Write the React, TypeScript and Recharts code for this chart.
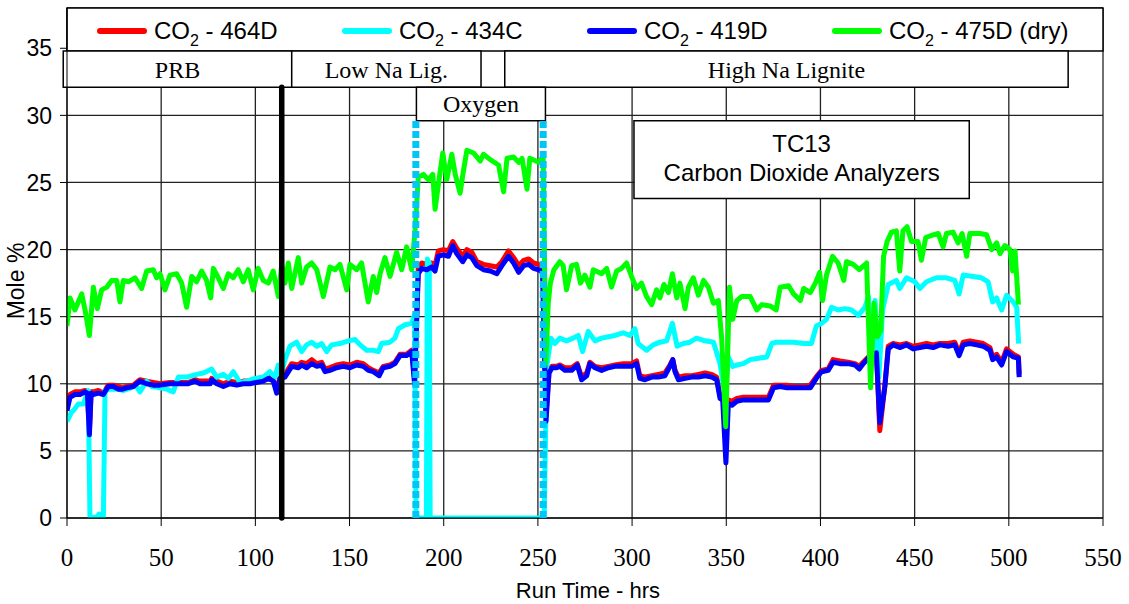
import React from 'react';
import {
  LineChart,
  Line,
  XAxis,
  YAxis,
  CartesianGrid,
  Legend,
  ReferenceArea,
  ReferenceLine,
} from 'recharts';

const SANS = '"Liberation Sans", Arial, sans-serif';
const SERIF = '"Liberation Serif", "Times New Roman", serif';

// x-axis / y-axis ticks
const xTicks = [0, 50, 100, 150, 200, 250, 300, 350, 400, 450, 500, 550];
const yTicks = [0, 5, 10, 15, 20, 25, 30, 35];

// run time (hrs) shared by 464D and 419D
const tRB = [
  0, 1.6, 4.2, 6.9, 9.6, 10.8, 11.9, 12.8, 13.9, 16.6, 19.3, 21.9, 24.6, 27.2, 29.5, 31.7, 35.2, 38.7, 42.3, 45.8,
  49.4, 54.7, 60, 64.4, 67.9, 70.6, 76, 76.8, 79.5, 83, 86.5, 90.1, 93.6, 97.1, 100.6, 104.2, 106.9, 109.5, 111.3, 113.1,
  115.7, 119.3, 122.8, 124.6, 127.2, 129.9, 132.6, 135.2, 137, 139.6, 143.1, 146.7, 150.2, 153.8, 157.3, 160, 162.6, 165.7, 167.9, 171.5,
  174.1, 176.8, 180.3, 183, 184.5, 186.5, 188.3, 191, 193.6, 195.4, 197.1, 199.8, 202.5, 204.8, 206.9, 210.1, 212.3, 214.9, 217.6, 221.1,
  224.7, 228.2, 230.9, 234.4, 237.1, 239.8, 242.4, 245.1, 247.7, 250.4, 252.5, 254.3, 255.9, 257.5, 259.9, 261.6, 264.3, 267.9, 270.9, 273.2,
  275.9, 277.6, 280.3, 283.8, 287.4, 290.9, 295.3, 299.7, 302.4, 304.1, 306.8, 310.4, 313.9, 317.4, 320.1, 321.6, 322.8, 324.6, 328.1, 331.6,
  335.2, 338.7, 342.3, 344.9, 346.7, 348.1, 349.8, 351.1, 353, 355.6, 359.1, 362.7, 368, 372.4, 375.1, 378.6, 382.2, 385.7, 391.1, 394.6,
  398.2, 400.6, 404.1, 406.7, 410.3, 414.7, 418.3, 420.6, 422.7, 425.4, 427.5, 429.7, 431.5, 434.2, 436, 438.6, 442.1, 445.7, 449.2, 452.8,
  456.3, 459.8, 463.4, 467.8, 471.3, 473.6, 475.8, 479.3, 482.9, 486.4, 490, 491.4, 493.5, 496.2, 498.8, 502.4, 505.1, 505.5,
];

// CO2 - 464D (red)
const v464D = [
  8.4, 9.2, 9.4, 9.4, 9.5, 9.4, 6.5, 9.4, 9.4, 9.5, 9.3, 9.9, 9.9, 9.8, 9.7, 9.8, 9.9, 10.3, 10.2, 10.1,
  10.0, 10.1, 10.1, 10.1, 10.3, 10.2, 10.2, 10.4, 10.2, 10.0, 10.2, 10.1, 10.2, 10.2, 10.3, 10.3, 10.5, 10.3, 9.5, 10.5,
  10.7, 11.5, 11.4, 11.6, 11.5, 11.8, 11.5, 11.6, 11.1, 11.2, 11.4, 11.5, 11.4, 11.6, 11.5, 11.2, 11.0, 10.8, 11.3, 11.4,
  11.6, 12.2, 12.2, 12.5, 10.5, 18.7, 19.0, 18.9, 19.0, 18.8, 19.9, 20.0, 19.9, 20.6, 20.1, 19.5, 20.0, 19.8, 19.1, 18.9,
  18.8, 18.7, 19.1, 19.9, 19.4, 18.8, 19.2, 19.3, 19.0, 18.9, 18.7, 7.6, 11.0, 11.3, 11.3, 11.4, 11.2, 11.2, 11.5, 10.5,
  10.8, 11.6, 11.3, 11.2, 11.3, 11.4, 11.5, 11.5, 11.7, 10.6, 10.5, 10.6, 10.7, 10.8, 11.4, 11.8, 11.0, 10.5, 10.6, 10.6,
  10.7, 10.8, 10.7, 10.5, 9.1, 9.0, 7.4, 8.8, 8.7, 8.9, 9.0, 9.0, 9.0, 9.0, 9.9, 9.9, 9.9, 9.8, 9.8, 9.9,
  10.6, 11.0, 11.1, 11.8, 11.7, 11.6, 11.5, 11.3, 11.6, 12.0, 12.2, 12.4, 6.5, 9.9, 12.8, 13.0, 12.9, 13.0, 12.8, 12.9,
  13.0, 12.9, 13.0, 13.0, 13.1, 12.3, 13.1, 13.2, 13.1, 13.0, 12.7, 12.0, 12.2, 11.6, 12.6, 12.2, 12.0, 10.7,
];

// CO2 - 419D (blue)
const v419D = [
  8.0, 9.0, 9.2, 9.2, 9.4, 9.3, 6.2, 9.3, 9.2, 9.3, 9.2, 9.8, 9.8, 9.6, 9.6, 9.7, 9.8, 10.2, 10.0, 9.9,
  9.9, 10.0, 10.0, 10.0, 10.2, 10.0, 10.0, 10.3, 10.0, 9.8, 10.0, 9.9, 10.0, 10.0, 10.1, 10.2, 10.4, 10.2, 9.3, 10.4,
  10.5, 11.3, 11.2, 11.4, 11.2, 11.5, 11.3, 11.4, 10.9, 11.0, 11.2, 11.3, 11.2, 11.4, 11.3, 11.0, 10.9, 10.6, 11.2, 11.3,
  11.5, 12.1, 12.1, 12.4, 10.0, 18.2, 18.6, 18.5, 18.7, 18.4, 19.5, 19.6, 19.5, 20.3, 19.7, 19.1, 19.6, 19.4, 18.8, 18.5,
  18.4, 18.2, 18.8, 19.5, 19.0, 18.3, 18.8, 18.9, 18.6, 18.5, 18.3, 7.2, 10.8, 11.2, 11.2, 11.3, 11.0, 11.0, 11.4, 10.3,
  10.6, 11.5, 11.2, 11.0, 11.2, 11.3, 11.3, 11.3, 11.5, 10.4, 10.3, 10.5, 10.5, 10.6, 11.3, 11.8, 10.9, 10.3, 10.4, 10.5,
  10.5, 10.6, 10.5, 10.3, 8.9, 8.8, 4.1, 8.5, 8.4, 8.7, 8.8, 8.8, 8.8, 8.8, 9.7, 9.8, 9.7, 9.7, 9.7, 9.7,
  10.5, 10.9, 11.0, 11.6, 11.5, 11.5, 11.4, 11.1, 11.5, 11.9, 12.1, 12.3, 7.1, 9.8, 12.6, 12.9, 12.7, 12.9, 12.6, 12.7,
  12.8, 12.7, 12.9, 12.8, 12.9, 12.1, 12.9, 13.0, 12.9, 12.8, 12.5, 11.8, 12.0, 11.4, 12.4, 12.0, 11.9, 10.5,
];

// CO2 - 434C (cyan)
const t434C = [
  0, 2.5, 3.4, 6, 8.7, 11.3, 12.2, 13, 16, 17, 18.5, 19.3, 20.2, 22.8, 26.4, 30, 34, 36.5, 38.7, 42.3,
  45, 49.4, 53, 56.4, 59.1, 63.5, 68.8, 72.4, 76.8, 79.5, 83, 85.6, 88.3, 91.8, 95.4, 99.8, 104.2, 107.7, 110.4, 112.2,
  113.5, 115.7, 118.4, 121.9, 124.6, 127.2, 129.9, 132.6, 135.2, 137.9, 140.5, 144.9, 149.4, 152.9, 155.6, 159.1, 162.6, 165.3, 167, 171.5,
  174.1, 175.9, 179.5, 183, 184.6, 185.3, 190.8, 191.3, 192.3, 192.8, 253.3, 254.7, 256.9, 259, 261.6, 265.2, 268.7, 271.4, 273.7, 276.7,
  280.3, 283.8, 287.4, 290.9, 295.3, 298.8, 301.5, 303.2, 305, 307.7, 311.2, 314.8, 318.3, 321.4, 323.9, 327.2, 330.7, 334.2, 338.7, 343.2,
  346.7, 349.4, 351.1, 353.4, 355.6, 359.1, 362.7, 367.1, 371.5, 374.2, 376.9, 382.2, 385.7, 391.1, 395.2, 397.8, 400.6, 403.2, 405.9, 409.4,
  413, 416.5, 420.1, 423.6, 425.5, 427.3, 429, 431, 433, 436, 440.3, 442.1, 445.7, 450.1, 452.8, 456.3, 461.6, 466.9, 471.3, 473.6,
  475.8, 481.1, 485.5, 489, 491.4, 493.5, 496.2, 498.8, 502.4, 504.2, 505.2,
];
const v434C = [
  7.2, 7.9, 8.0, 8.5, 8.5, 9.5, 0, 0, 0.1, 0.3, 0.2, 0, 9.5, 9.6, 9.6, 9.5, 9.7, 9.9, 9.4, 10.2,
  9.8, 9.7, 9.6, 9.4, 10.5, 10.5, 10.7, 10.8, 11.1, 10.5, 10.7, 10.4, 10.9, 10.1, 10.2, 10.4, 10.5, 10.9, 10.5, 11.4,
  10.6, 11.8, 12.8, 13.1, 12.4, 12.9, 13.1, 12.8, 13.0, 12.4, 12.9, 13.0, 13.2, 13.3, 12.9, 12.5, 12.5, 12.4, 13.0, 13.1,
  13.4, 14.1, 14.4, 14.5, 15.2, 0, 0, 19.3, 19.0, 0, 0, 11.3, 13.4, 13.0, 13.4, 13.2, 13.4, 13.6, 12.4, 13.9,
  13.2, 13.4, 13.5, 13.6, 13.8, 13.6, 14.1, 13.0, 12.8, 12.5, 12.9, 13.1, 13.2, 14.5, 12.8, 13.0, 13.1, 13.4, 13.2, 13.1,
  11.5, 9.0, 12.0, 11.3, 11.4, 11.5, 11.8, 11.9, 12.0, 13.0, 13.1, 13.1, 13.1, 13.0, 13.0, 14.3, 14.5, 14.8, 15.7, 15.5,
  15.6, 15.5, 15.1, 15.7, 16.5, 12.0, 16.2, 10.5, 15.5, 17.4, 17.7, 17.1, 17.9, 17.6, 17.1, 17.6, 17.9, 17.9, 17.7, 16.7,
  18.1, 18.0, 17.9, 17.6, 16.1, 16.4, 15.5, 16.6, 16.1, 15.7, 13.0,
];

// CO2 - 475D (dry) (green)
const t475D = [
  0, 1.6, 4.2, 6, 7.8, 9.6, 11.9, 14, 16.1, 18.4, 21.1, 23.7, 26.4, 28.1, 29.9, 32.6, 36.1, 39.6, 42.3, 45.8,
  47.6, 49.4, 52, 54.7, 58.2, 60.9, 63.5, 66.2, 68.8, 71.5, 74.1, 76.3, 77.7, 80.3, 83, 85.6, 88.3, 90.9, 93.6, 96.2,
  98.9, 101.5, 104.2, 106.9, 109.5, 112.2, 114, 115.7, 117.5, 119.3, 122.8, 124.6, 127.2, 129.9, 132.6, 136.1, 139.6, 142.3, 144.9, 148.5,
  150.2, 153.8, 156.4, 159.9, 162.6, 164.4, 166.2, 168.8, 171.5, 175, 177.7, 180.3, 183, 184.8, 186.5, 189.2, 191.9, 194.2, 195.4, 197.7,
  199.5, 201.6, 204.3, 206.1, 208.7, 210.5, 212.3, 215.8, 219.3, 221.1, 224.7, 229.1, 231.8, 233.6, 237.1, 239.8, 241.6, 244.2, 245.7, 250.4,
  252.8, 254.2, 255.5, 256.6, 258.5, 261.6, 263.4, 265.2, 267.9, 270.5, 272.6, 274.9, 277.6, 279.4, 283.8, 286.5, 289.1, 291.8, 294.4, 297.1,
  299.7, 302.4, 305, 307.7, 310.4, 313, 314.8, 316.9, 319.3, 321.4, 323.7, 325.4, 328.1, 329.9, 332.5, 335.2, 337.9, 340.5, 343.2, 345.8,
  347.6, 349.7, 351.7, 353.4, 355.6, 358.2, 362.7, 366.2, 368.9, 373.3, 376.5, 378.6, 383.1, 385.7, 389.3, 391.1, 394.6, 397.3, 399.6, 401.1,
  403.2, 406.4, 409.4, 412.4, 413.8, 417.4, 420.6, 424.5, 426.6, 428.4, 430.2, 432, 433.5, 435.4, 437.7, 440.3, 442.1, 443.8, 446, 448.3,
  451.8, 453.6, 455.9, 459.8, 462.5, 465.1, 466.9, 470.4, 473.1, 475.2, 477.6, 479.3, 484.6, 488.2, 490.9, 493.5, 495.3, 497.9, 500.6, 502.1,
  503.3, 505.1,
];
const v475D = [
  14.3, 16.4, 15.5, 16.1, 16.7, 15.5, 13.6, 17.2, 15.6, 17.0, 17.2, 17.7, 17.7, 16.1, 17.7, 17.6, 17.9, 17.1, 18.4, 18.5,
  17.9, 18.2, 17.0, 18.1, 18.2, 17.5, 15.7, 18.0, 17.6, 18.4, 17.7, 16.4, 18.6, 17.9, 17.1, 18.2, 17.9, 18.5, 17.6, 18.5,
  17.0, 18.6, 17.7, 17.5, 18.4, 16.5, 18.9, 17.5, 19.0, 17.1, 19.4, 17.5, 18.7, 19.0, 18.5, 16.5, 18.7, 18.5, 18.9, 17.0,
  18.9, 18.5, 19.0, 16.1, 18.0, 16.8, 18.2, 19.4, 18.0, 19.8, 18.5, 20.2, 18.5, 21.5, 25.4, 25.6, 25.2, 25.6, 23.0, 25.4,
  27.2, 25.2, 27.1, 25.6, 24.2, 25.9, 27.4, 27.2, 26.6, 27.1, 26.7, 26.3, 24.3, 26.8, 26.9, 26.5, 26.8, 24.5, 26.8, 26.5,
  26.9, 11.5, 16.0, 17.5, 18.5, 19.1, 18.8, 17.0, 18.8, 18.9, 17.5, 18.1, 17.2, 18.5, 18.2, 18.6, 17.2, 18.4, 18.6, 19.0,
  18.0, 17.1, 17.5, 16.5, 15.9, 17.0, 16.4, 17.4, 16.8, 18.2, 16.4, 17.5, 15.6, 17.2, 17.9, 16.6, 17.7, 17.2, 16.0, 16.2,
  13.3, 6.8, 17.2, 14.8, 16.2, 16.5, 16.5, 15.5, 15.9, 15.8, 15.5, 17.2, 17.3, 16.7, 16.2, 17.1, 16.8, 17.5, 18.3, 16.2,
  18.1, 19.5, 19.0, 17.7, 19.1, 18.9, 18.5, 19.0, 9.7, 16.0, 13.5, 14.0, 19.5, 20.6, 21.3, 21.4, 18.4, 21.4, 21.7, 20.6,
  20.6, 19.2, 20.9, 21.1, 21.2, 20.2, 21.2, 21.3, 20.5, 21.2, 19.5, 21.2, 21.2, 21.1, 20.0, 20.5, 19.7, 20.3, 20.0, 18.4,
  19.9, 15.9,
];

const toPoints = (t: number[], v: number[]) => t.map((x, i) => ({ t: x, v: v[i] }));

const series = [
  { name: '464D', color: '#ff0000', data: toPoints(tRB, v464D) },
  { name: '434C', color: '#00ffff', data: toPoints(t434C, v434C) },
  { name: '419D', color: '#0000ff', data: toPoints(tRB, v419D) },
  { name: '475D (dry)', color: '#00ff00', data: toPoints(t475D, v475D) },
];

// legend keeps the series order (Recharts would sort it by name)
const LegendBox = () => (
  <div style={{ position: 'relative', height: 28, fontFamily: SANS, fontSize: 24, color: '#000' }}>
    {series.map((s, i) => (
      <div
        key={s.name}
        style={{ position: 'absolute', left: 97 + i * 245, top: 0, height: 28, display: 'flex', alignItems: 'center', whiteSpace: 'nowrap' }}
      >
        <span style={{ display: 'inline-block', width: 50, height: 6, borderRadius: 3, background: s.color, marginRight: 7 }} />
        <span>
          CO<span style={{ fontSize: 16, position: 'relative', top: 7, lineHeight: 0 }}>2</span> - {s.name}
        </span>
      </div>
    ))}
  </div>
);

const Tc13Label = (props: any) => {
  const { x, y, width } = props.viewBox;
  const cx = x + width / 2;
  return (
    <g>
      <text x={cx} y={y + 31} textAnchor="middle" fontFamily={SANS} fontSize={24} fill="#000">
        TC13
      </text>
      <text x={cx} y={y + 60} textAnchor="middle" fontFamily={SANS} fontSize={24} fill="#000">
        Carbon Dioxide Analyzers
      </text>
    </g>
  );
};

const YTitle = () => (
  <text x={24} y={281} transform="rotate(-90, 24, 281)" textAnchor="middle" fontFamily={SANS} fontSize={23} fill="#000">
    Mole %
  </text>
);

const XTitle = () => (
  <text x={588} y={598} textAnchor="middle" fontFamily={SANS} fontSize={22} fill="#000">
    Run Time - hrs
  </text>
);

const boxLabel = (value: string) => ({ value, position: 'center' as const, fontFamily: SERIF, fontSize: 24, fill: '#000' });

export default function App() {
  return (
    <div style={{ position: 'absolute', left: 0, top: 0, width: 1129, height: 604, background: '#fff' }}>
      <LineChart width={1129} height={604} margin={{ top: 8, right: 26, left: 0, bottom: 0 }}>
        <CartesianGrid stroke="#222" strokeWidth={1.3} />
        <XAxis
          type="number"
          dataKey="t"
          domain={[0, 550]}
          ticks={xTicks}
          allowDataOverflow
          height={86}
          stroke="#000"
          tickSize={8}
          tickMargin={22}
          tick={{ fontFamily: SERIF, fontSize: 25, fill: '#000' }}
          label={<XTitle />}
        />
        <YAxis
          type="number"
          domain={[0, 38]}
          ticks={yTicks}
          allowDataOverflow
          width={67}
          stroke="#000"
          tickSize={7}
          tickMargin={8}
          tick={{ fontFamily: SANS, fontSize: 23, fill: '#000' }}
          label={<YTitle />}
        />

        <ReferenceArea x1={0} x2={550} y1={34.8} y2={38} fill="#fff" fillOpacity={1} stroke="#000" strokeWidth={1.5} ifOverflow="visible" />
        <ReferenceArea x1={-2} x2={119.3} y1={32.1} y2={34.8} fill="#fff" fillOpacity={1} stroke="#000" strokeWidth={1.5} ifOverflow="visible" label={boxLabel('PRB')} />
        <ReferenceArea x1={119.3} x2={219.8} y1={32.1} y2={34.8} fill="#fff" fillOpacity={1} stroke="#000" strokeWidth={1.5} label={boxLabel('Low Na Lig.')} />
        <ReferenceArea x1={232.4} x2={531.5} y1={32.1} y2={34.8} fill="#fff" fillOpacity={1} stroke="#000" strokeWidth={1.5} label={boxLabel('High Na Lignite')} />
        <ReferenceArea x1={185.5} x2={254} y1={29.6} y2={32.1} fill="#fff" fillOpacity={1} stroke="#000" strokeWidth={1.5} label={boxLabel('Oxygen')} />
        <ReferenceArea x1={301} x2={479} y1={23.8} y2={29.6} fill="#fff" fillOpacity={1} stroke="#000" strokeWidth={1.5} label={Tc13Label} />

        {series.map((s) => (
          <Line
            key={s.name}
            data={s.data}
            dataKey="v"
            name={s.name}
            type="linear"
            stroke={s.color}
            strokeWidth={5}
            strokeLinejoin="round"
            dot={false}
            activeDot={false}
            isAnimationActive={false}
          />
        ))}

        <ReferenceLine
          segment={[{ x: 114, y: 0 }, { x: 114, y: 32.1 }]}
          stroke="#000"
          strokeWidth={5.5}
          strokeLinecap="round"
          zIndex={1500}
        />
        <ReferenceLine
          segment={[{ x: 185.2, y: 0 }, { x: 185.2, y: 29.6 }]}
          stroke="#00c5f5"
          strokeWidth={7}
          strokeDasharray="7 3"
          zIndex={1500}
        />
        <ReferenceLine
          segment={[{ x: 252.8, y: 0 }, { x: 252.8, y: 29.6 }]}
          stroke="#00c5f5"
          strokeWidth={7}
          strokeDasharray="7 3"
          zIndex={1500}
        />

        <Legend
          layout="horizontal"
          verticalAlign="middle"
          align="center"
          content={<LegendBox />}
          wrapperStyle={{ top: 17, left: 0, width: 1129, height: 28 }}
        />
      </LineChart>
    </div>
  );
}
